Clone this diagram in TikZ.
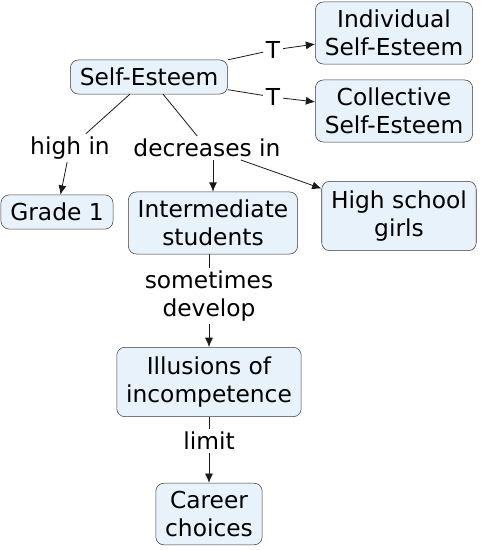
\documentclass[tikz,border=0pt]{standalone}
\usepackage{fontspec}
\setmainfont{DejaVu Sans}
\usepackage{xcolor}
\usepackage{tikz}
\usetikzlibrary{arrows.meta,positioning}
\definecolor{boxfill}{HTML}{E8F2FA}
\definecolor{boxline}{HTML}{3A3A3A}
\definecolor{linkc}{HTML}{1A1A1A}
\tikzset{
  concept/.style={draw=boxline,fill=boxfill,rounded corners=6pt,align=center,
    inner xsep=7pt,inner ysep=6pt,font=\fontsize{17.5}{21}\selectfont},
  linklbl/.style={align=center,inner sep=2pt,font=\fontsize{17.5}{21}\selectfont},
  ln/.style={linkc,semithick},
  ar/.style={linkc,semithick,-{Latex[length=7pt,width=6pt]}}
}
\begin{document}
\begin{tikzpicture}[x=0.75pt,y=-0.75pt]
\useasboundingbox (0,0) rectangle (480,550);
% concepts
\node[concept] (selfest) at (149,77) {Self-Esteem};
\node[concept] (indiv) at (394,33) {Individual\\Self-Esteem};
\node[concept] (collect) at (394,111) {Collective\\Self-Esteem};
\node[concept] (grade) at (57,212) {Grade 1};
\node[concept] (interm) at (213,223) {Intermediate\\students};
\node[concept,minimum height=52pt] (hsgirls) at (399,216) {High school\\girls};
\node[concept,minimum height=52pt] (illus) at (209,382) {Illusions of\\incompetence};
\node[concept] (career) at (209,514) {Career\\choices};
% linking phrases
\node[linklbl] (tone) at (273,50) {T};
\node[linklbl] (ttwo) at (273,97) {T};
\node[linklbl] (highin) at (70,148) {high in};
\node[linklbl] (decr) at (207,148) {decreases in};
\node[linklbl] (sdev) at (209,296) {sometimes\\develop};
\node[linklbl] (limit) at (209,441) {limit};
% connectors
\draw[ln] (selfest) -- (tone);
\draw[ar] (tone) -- (indiv);
\draw[ln] (selfest) -- (ttwo);
\draw[ar] (ttwo) -- (collect);
\draw[ln] (selfest) -- (highin);
\draw[ar] (highin) -- (grade);
\draw[ln] (selfest) -- (decr);
\draw[ar] (decr.south-|interm.north) -- (interm);
\draw[ar] (decr) -- (hsgirls);
\draw[ln] (interm.south-|sdev.north) -- (sdev);
\draw[ar] (sdev) -- (illus);
\draw[ln] (illus) -- (limit);
\draw[ar] (limit) -- (career);
\end{tikzpicture}
\end{document}
